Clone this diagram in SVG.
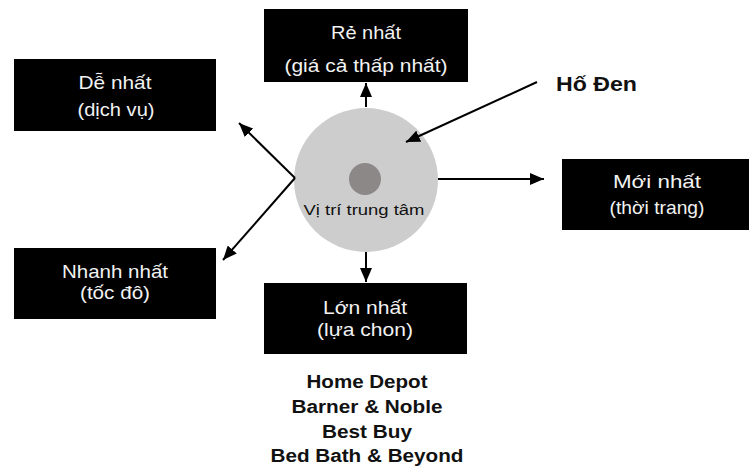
<svg xmlns="http://www.w3.org/2000/svg" width="751" height="473" viewBox="0 0 751 473">
<defs>
<marker id="ah" markerUnits="userSpaceOnUse" markerWidth="14" markerHeight="12" refX="14" refY="6" orient="auto">
<path d="M0,0 L14,6 L0,12 z" fill="#000"/>
</marker>
<style>
.box{fill:#000;}
.bt{fill:#f2f2f2;font-family:"Liberation Sans",Arial,sans-serif;font-size:19px;text-anchor:middle;}
.lbl{fill:#111;font-family:"Liberation Sans",Arial,sans-serif;font-weight:bold;font-size:18px;text-anchor:middle;}
.con{stroke:#000;stroke-width:2;fill:none;}
</style>
</defs>
<rect width="751" height="473" fill="#fff"/>
<g id="center">
<circle cx="366" cy="180" r="72" fill="#cdcdcd"/>
<circle cx="365" cy="179" r="16" fill="#8c8888"/>
<text x="364" y="215" style="fill:#111;font-family:'Liberation Sans',Arial,sans-serif;font-size:14px;text-anchor:middle" textLength="121" lengthAdjust="spacingAndGlyphs">Vị trí trung tâm</text>
</g>
<g id="connectors">
<line class="con" x1="366" y1="107" x2="366" y2="83" marker-end="url(#ah)"/>
<line class="con" x1="295" y1="178" x2="239" y2="123" marker-end="url(#ah)"/>
<line class="con" x1="295" y1="178" x2="223" y2="260" marker-end="url(#ah)"/>
<line class="con" x1="366" y1="252" x2="366" y2="282" marker-end="url(#ah)"/>
<line class="con" x1="438" y1="179" x2="544" y2="179" marker-end="url(#ah)"/>
<line class="con" x1="537" y1="82" x2="406" y2="142" marker-end="url(#ah)"/>
</g>
<g id="re-nhat">
<rect class="box" x="264" y="9" width="204" height="73"/>
<text class="bt" x="366" y="39" textLength="70" lengthAdjust="spacingAndGlyphs">Rẻ nhất</text>
<text class="bt" x="366" y="72" textLength="163" lengthAdjust="spacingAndGlyphs">(giá cả thấp nhất)</text>
</g>
<g id="de-nhat">
<rect class="box" x="14" y="59" width="202" height="72"/>
<text class="bt" x="115" y="89" textLength="73" lengthAdjust="spacingAndGlyphs">Dễ nhất</text>
<text class="bt" x="116" y="116" textLength="77" lengthAdjust="spacingAndGlyphs">(dịch vụ)</text>
</g>
<g id="moi-nhat">
<rect class="box" x="562" y="159" width="187" height="71"/>
<text class="bt" x="657" y="188" textLength="88" lengthAdjust="spacingAndGlyphs">Mới nhất</text>
<text class="bt" x="657" y="214" textLength="95" lengthAdjust="spacingAndGlyphs">(thời trang)</text>
</g>
<g id="nhanh-nhat">
<rect class="box" x="14" y="248" width="202" height="71"/>
<text class="bt" x="115" y="278" textLength="106" lengthAdjust="spacingAndGlyphs">Nhanh nhất</text>
<text class="bt" x="115" y="299" textLength="70" lengthAdjust="spacingAndGlyphs">(tốc đô)</text>
</g>
<g id="lon-nhat">
<rect class="box" x="264" y="283" width="203" height="71"/>
<text class="bt" x="365" y="314" textLength="84" lengthAdjust="spacingAndGlyphs">Lớn nhất</text>
<text class="bt" x="365" y="336" textLength="96" lengthAdjust="spacingAndGlyphs">(lựa chon)</text>
</g>
<g id="ho-den">
<text x="556" y="91" style="fill:#111;font-family:'Liberation Sans',Arial,sans-serif;font-weight:bold;font-size:20px" textLength="81" lengthAdjust="spacingAndGlyphs">Hố Đen</text>
</g>
<g id="stores">
<text class="lbl" x="367" y="388" textLength="121" lengthAdjust="spacingAndGlyphs">Home Depot</text>
<text class="lbl" x="367" y="413" textLength="151" lengthAdjust="spacingAndGlyphs">Barner &amp; Noble</text>
<text class="lbl" x="367" y="438" textLength="90" lengthAdjust="spacingAndGlyphs">Best Buy</text>
<text class="lbl" x="367" y="462" textLength="193" lengthAdjust="spacingAndGlyphs">Bed Bath &amp; Beyond</text>
</g>
</svg>
